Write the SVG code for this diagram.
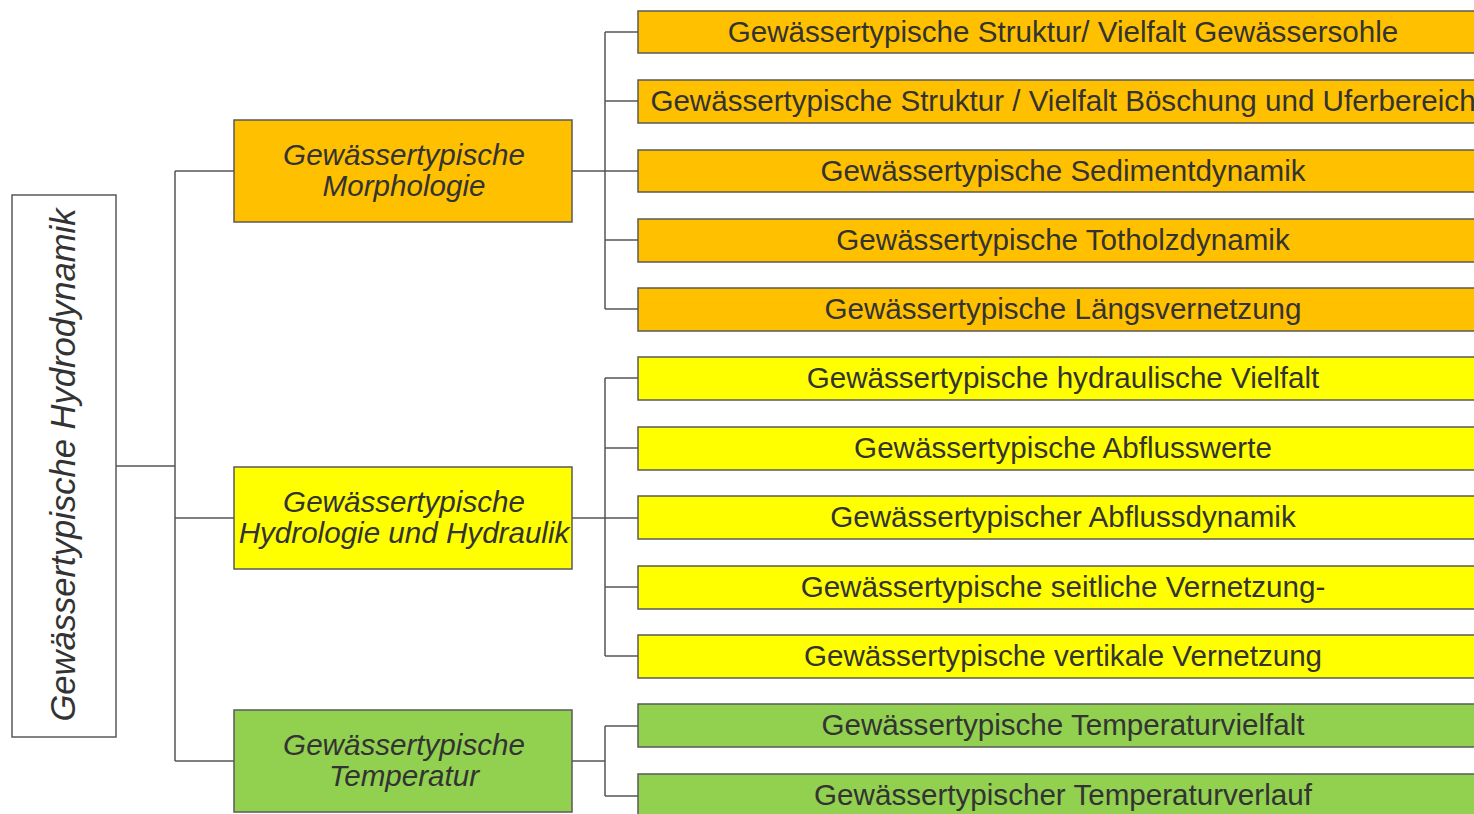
<svg xmlns="http://www.w3.org/2000/svg" width="1474" height="814" viewBox="0 0 1474 814">
<style>
.box{stroke:#5a5a5a;stroke-width:1.5}
.o{fill:#FFC000}.y{fill:#FFFF00}.g{fill:#92D050}
.t{font-family:"Liberation Sans",Arial,sans-serif;font-size:29.6px;fill:#333;text-anchor:middle}
.i{font-style:italic}
.c{fill:none;stroke:#555;stroke-width:1.5}
</style>
<rect width="1474" height="814" fill="#fff"/>
<g id="connectors">
<path class="c" d="M116 466H175M175 171V761M175 171H234M175 518H234M175 761H234"/>
<path class="c" d="M572 171H605M605 32V309M605 32H638M605 101H638M605 171H638M605 240H638M605 309H638"/>
<path class="c" d="M572 518H605M605 378V656M605 378H638M605 448H638M605 518H638M605 587H638M605 656H638"/>
<path class="c" d="M572 761H605M605 726V796M605 726H638M605 796H638"/>
</g>
<g id="root">
<rect class="box" x="12" y="195" width="104" height="542" fill="#fff"/>
<text class="t i" style="font-size:34.6px" transform="translate(75 465) rotate(-90)">Gewässertypische Hydrodynamik</text>
</g>
<g id="morph">
<rect class="box o" x="234" y="120" width="338" height="102"/>
<text class="t i" x="404" y="165">Gewässertypische</text>
<text class="t i" x="404" y="196">Morphologie</text>
</g>
<g id="hydro">
<rect class="box y" x="234" y="467" width="338" height="102"/>
<text class="t i" x="404" y="512">Gewässertypische</text>
<text class="t i" x="404" y="543">Hydrologie und Hydraulik</text>
</g>
<g id="temp">
<rect class="box g" x="234" y="710" width="338" height="102"/>
<text class="t i" x="404" y="755">Gewässertypische</text>
<text class="t i" x="404" y="786">Temperatur</text>
</g>
<g id="m1"><rect class="box o" x="638" y="11" width="850" height="42"/><text class="t" x="1063" y="42">Gewässertypische Struktur/ Vielfalt Gewässersohle</text></g>
<g id="m2"><rect class="box o" x="638" y="80" width="850" height="43"/><text class="t" x="1063" y="111">Gewässertypische Struktur / Vielfalt Böschung und Uferbereich</text></g>
<g id="m3"><rect class="box o" x="638" y="150" width="850" height="42"/><text class="t" x="1063" y="181">Gewässertypische Sedimentdynamik</text></g>
<g id="m4"><rect class="box o" x="638" y="219" width="850" height="43"/><text class="t" x="1063" y="250">Gewässertypische Totholzdynamik</text></g>
<g id="m5"><rect class="box o" x="638" y="288" width="850" height="43"/><text class="t" x="1063" y="319">Gewässertypische Längsvernetzung</text></g>
<g id="h1"><rect class="box y" x="638" y="357" width="850" height="43"/><text class="t" x="1063" y="388">Gewässertypische hydraulische Vielfalt</text></g>
<g id="h2"><rect class="box y" x="638" y="427" width="850" height="43"/><text class="t" x="1063" y="458">Gewässertypische Abflusswerte</text></g>
<g id="h3"><rect class="box y" x="638" y="496" width="850" height="43"/><text class="t" x="1063" y="527">Gewässertypischer Abflussdynamik</text></g>
<g id="h4"><rect class="box y" x="638" y="566" width="850" height="43"/><text class="t" x="1063" y="597">Gewässertypische seitliche Vernetzung-</text></g>
<g id="h5"><rect class="box y" x="638" y="635" width="850" height="43"/><text class="t" x="1063" y="666">Gewässertypische vertikale Vernetzung</text></g>
<g id="t1"><rect class="box g" x="638" y="704" width="850" height="43"/><text class="t" x="1063" y="735">Gewässertypische Temperaturvielfalt</text></g>
<g id="t2"><rect class="box g" x="638" y="774" width="850" height="43"/><text class="t" x="1063" y="805">Gewässertypischer Temperaturverlauf</text></g>
</svg>
